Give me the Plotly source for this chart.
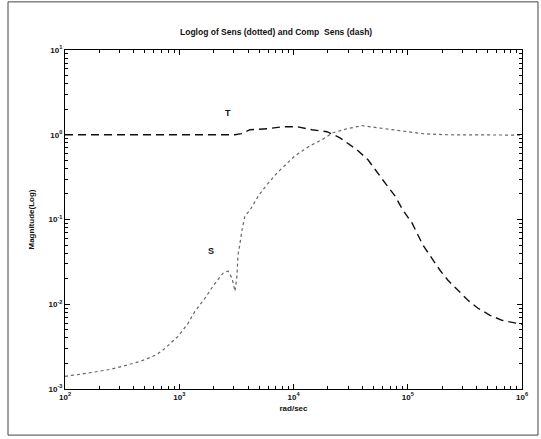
import plotly.graph_objects as go

# Sensitivity S (dotted)
s_freq = [100, 110.7, 135.2, 172.2, 202.3, 247.7, 315.5, 370.7, 452.9, 532.1, 638.3,
          749.9, 881.0, 975, 1194, 1374, 1679, 1972, 2415, 2673, 2897, 3076, 3199,
          3266, 3404, 3540, 3758, 4159, 4989, 5741, 7178, 10300, 13930, 17740, 22180,
          29380, 39810, 53830, 80540, 135800, 220800, 428500, 1000000]
s_mag = [1.406e-3, 1.445e-3, 1.486e-3, 1.567e-3, 1.611e-3, 1.702e-3, 1.845e-3, 1.950e-3,
         2.113e-3, 2.296e-3, 2.559e-3, 3.013e-3, 3.648e-3, 4.178e-3, 5.957e-3, 8.26e-3,
         1.178e-2, 1.633e-2, 2.328e-2, 2.46e-2, 2.03e-2, 1.426e-2, 2.143e-2, 3.80e-2,
         5.27e-2, 7.52e-2, 0.110, 0.129, 0.195, 0.249, 0.355, 0.564, 0.741, 0.873,
         1.057, 1.178, 1.279, 1.211, 1.114, 1.028, 1.0, 0.99, 0.99]

# Complementary sensitivity T (dashed)
t_freq = [100, 1000, 3076, 3500, 4159, 5984, 8091, 10740, 14520, 19630, 25530, 35970,
          44870, 63240, 77270, 90780, 108900, 135800, 162900, 191400, 224900, 275400,
          336500, 412100, 524800, 668300, 1000000]
t_mag = [1.0, 1.0, 1.0, 1.03, 1.146, 1.178, 1.245, 1.245, 1.146, 1.086, 0.920, 0.664,
         0.506, 0.270, 0.190, 0.129, 0.0910, 0.0499, 0.0350, 0.0252, 0.0192, 0.01466,
         0.01114, 0.00897, 0.00741, 0.00647, 0.00579]

x_ticks = [1e2, 1e3, 1e4, 1e5, 1e6]
x_ticktext = ["<b>10<sup>2</sup></b>", "<b>10<sup>3</sup></b>", "<b>10<sup>4</sup></b>",
              "<b>10<sup>5</sup></b>", "<b>10<sup>6</sup></b>"]
y_ticks = [1e-3, 1e-2, 1e-1, 1e0, 1e1]
y_ticktext = ["<b>10<sup>-3</sup></b>", "<b>10<sup>-2</sup></b>", "<b>10<sup>-1</sup></b>",
              "<b>10<sup>0</sup></b>", "<b>10<sup>1</sup></b>"]

title_text = "Loglog of Sens (dotted) and Comp  Sens (dash)"
x_title = "rad/sec"
y_title = "Magnitude(Log)"

FONT = "Liberation Sans, Arial, sans-serif"

def minor_vals(lo, hi):
    vals = []
    for e in range(lo, hi):
        for m in range(2, 10):
            vals.append(m * 10 ** e)
    return vals

fig = go.Figure()
fig.add_trace(go.Scatter(x=s_freq, y=s_mag, mode="lines", line=dict(color="#666666", width=1.2, dash="dot"),
                         showlegend=False, hoverinfo="skip"))
fig.add_trace(go.Scatter(x=t_freq, y=t_mag, mode="lines", line=dict(color="#111111", width=1.4, dash="8px,5px"),
                         showlegend=False, hoverinfo="skip"))

axis_common = dict(showgrid=False, zeroline=False, showline=True, linecolor="black", linewidth=1,
                   mirror="allticks", ticks="inside", ticklen=5, tickcolor="black",
                   tickfont=dict(family=FONT, size=8, color="#111"))

fig.update_xaxes(type="log", range=[2, 6], tickmode="array", tickvals=x_ticks, ticktext=x_ticktext,
                 minor=dict(tickmode="array", tickvals=minor_vals(2, 6), ticks="inside", ticklen=3,
                            tickcolor="black", showgrid=False),
                 title=dict(text="<b>" + x_title + "</b>", font=dict(family=FONT, size=8, color="#111"), standoff=4),
                 **axis_common)
fig.update_yaxes(type="log", range=[-3, 1], tickmode="array", tickvals=y_ticks, ticktext=y_ticktext,
                 minor=dict(tickmode="array", tickvals=minor_vals(-3, 1), ticks="inside", ticklen=3,
                            tickcolor="black", showgrid=False),
                 title=dict(text="<b>" + y_title + "</b>", font=dict(family=FONT, size=8, color="#111"), standoff=12),
                 **axis_common)

fig.add_annotation(x=0.462, y=1.053, xref="paper", yref="paper", text="<b>" + title_text + "</b>", showarrow=False,
                   font=dict(family=FONT, size=8.5, color="#111"), xanchor="center", yanchor="middle")
fig.add_annotation(x=3.427, y=0.26, xref="x", yref="y", text="<b>T</b>", showarrow=False,
                   font=dict(family=FONT, size=9, color="#111"))
fig.add_annotation(x=3.278, y=-1.373, xref="x", yref="y", text="<b>S</b>", showarrow=False,
                   font=dict(family=FONT, size=9, color="#111"))

# outer page frame
fig.add_shape(type="rect", xref="paper", yref="paper", x0=-0.1247, x1=1.035, y0=-0.136, y1=1.142,
              line=dict(color="#444", width=1), layer="below")

fig.update_layout(width=541, height=439, margin=dict(l=65, r=19, t=50, b=50),
                  paper_bgcolor="white", plot_bgcolor="white", showlegend=False,
                  font=dict(family=FONT, color="#111"))

fig.write_html("out.html")
